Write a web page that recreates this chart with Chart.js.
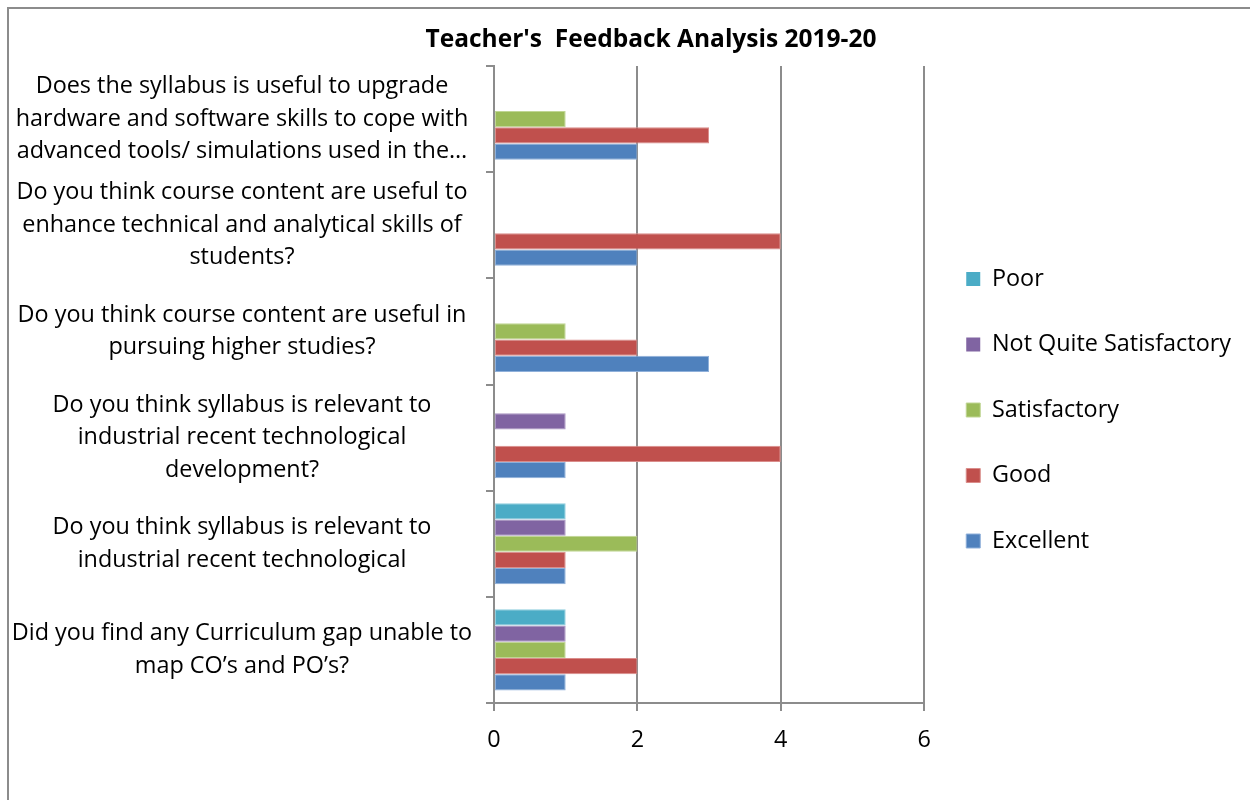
<!DOCTYPE html>
<html>
<head>
<meta charset="utf-8">
<title>Teacher's Feedback Analysis 2019-20</title>
<script src="https://cdn.jsdelivr.net/npm/chart.js@4.4.1/dist/chart.umd.min.js"></script>
<style>
  html, body { margin: 0; padding: 0; background: #fff; overflow: hidden; }
  #frame { position: absolute; left: 7px; top: 7px; width: 1300px; height: 850px; border: 2px solid #8c8c8c; }
  #chart { display: block; position: absolute; left: 0; top: 0; }
  #title {
    position: absolute; left: 0; top: 15px; width: 1284px;
    text-align: center; font: bold 24.5px/28px "Open Sans", sans-serif; color: #000;
    white-space: pre;
  }
</style>
</head>
<body>
<div id="frame">
  <canvas id="chart" width="1236" height="800"></canvas>
  <div id="title">Teacher's  Feedback Analysis 2019-20</div>
</div>
<script>
// questions, listed top to bottom as they appear on the axis
const questions = [
    ['Does the syllabus is useful to upgrade', 'hardware and software skills to cope with', 'advanced tools/ simulations used in the\u2026'],
    ['Do you think course content are useful to', 'enhance technical and analytical skills of', 'students?'],
    ['Do you think course content are useful in', 'pursuing higher studies?'],
    ['Do you think syllabus is relevant to', 'industrial recent technological', 'development?'],
    ['Do you think syllabus is relevant to', 'industrial recent technological'],
    ['Did you find any Curriculum gap unable to', 'map CO\u2019s and PO\u2019s?']
];

const seriesNames = ['Poor', 'Not Quite Satisfactory', 'Satisfactory', 'Good', 'Excellent'];

const poor         = [0, 0, 0, 0, 1, 1];
const notQuite     = [0, 0, 0, 1, 1, 1];
const satisfactory = [1, 0, 1, 0, 2, 1];
const good         = [3, 4, 2, 4, 1, 2];
const excellent    = [2, 2, 3, 1, 1, 1];

const xTicks = [0, 2, 4, 6];

const FONT = '"Open Sans", sans-serif';
const TEXT_SIZE = 23.4;
const gridColor = '#8c8c8c';

const canvas = document.getElementById('chart');
const ctx = canvas.getContext('2d');

// measure the labels so the plot area and legend land where they should
function textWidth(text) {
    ctx.font = TEXT_SIZE + 'px ' + FONT;
    return ctx.measureText(text).width;
}
const legendItemWidth = 14 + TEXT_SIZE / 2 + Math.max.apply(null, seriesNames.map(textWidth));
const widestLine = Math.max.apply(null, questions.flat().map(textWidth));
canvas.width = Math.round(957 + legendItemWidth + 10);

function series(label, data, fill, edge) {
    return {
        label: label,
        data: data,
        backgroundColor: fill,
        borderColor: edge,
        borderWidth: function (c) { return c.raw ? 1 : 0; },
        borderSkipped: false,
        barPercentage: 1,
        categoryPercentage: 0.764
    };
}

const chart = new Chart(ctx, {
    type: 'bar',
    data: {
        labels: questions,
        datasets: [
            series(seriesNames[0], poor, '#4bacc6', '#8fcddd'),
            series(seriesNames[1], notQuite, '#8064a2', '#a893c2'),
            series(seriesNames[2], satisfactory, '#9bbb59', '#c0d694'),
            series(seriesNames[3], good, '#c0504d', '#da8d8b'),
            series(seriesNames[4], excellent, '#4f81bd', '#8fb0da')
        ]
    },
    options: {
        indexAxis: 'y',
        responsive: false,
        animation: false,
        devicePixelRatio: 1,
        layout: { padding: { left: 0, right: 0, top: 57, bottom: 56 } },
        plugins: {
            title: { display: false },
            legend: {
                position: 'right',
                fullSize: false,
                maxWidth: 400,
                title: { display: true, text: '', font: { size: 13, lineHeight: 1 }, padding: { top: 38, bottom: 0 } },
                labels: {
                    color: '#000',
                    font: { family: FONT, size: TEXT_SIZE },
                    boxWidth: 14,
                    boxHeight: 14,
                    padding: 65.5 - TEXT_SIZE
                }
            },
            tooltip: { enabled: false }
        },
        scales: {
            x: {
                min: xTicks[0],
                max: xTicks[xTicks.length - 1],
                ticks: { stepSize: 2, padding: 15, color: '#000', font: { family: FONT, size: TEXT_SIZE } },
                grid: { color: gridColor, lineWidth: 2, tickLength: 8 },
                border: { color: gridColor, width: 2 },
                afterFit: function (axis) { axis.height = 50; }
            },
            y: {
                grid: { display: true, drawOnChartArea: false, offset: true, tickLength: 8, color: gridColor, lineWidth: 2 },
                border: { color: gridColor, width: 2 },
                ticks: {
                    autoSkip: false,
                    crossAlign: 'center',
                    padding: 244 - widestLine / 2,
                    color: '#000',
                    font: { family: FONT, size: TEXT_SIZE, lineHeight: 1.39 }
                },
                afterFit: function (axis) {
                    axis.width = 485;
                    axis.paddingTop = 0;
                    axis.paddingBottom = 0;
                }
            }
        }
    }
});
</script>
</body>
</html>
